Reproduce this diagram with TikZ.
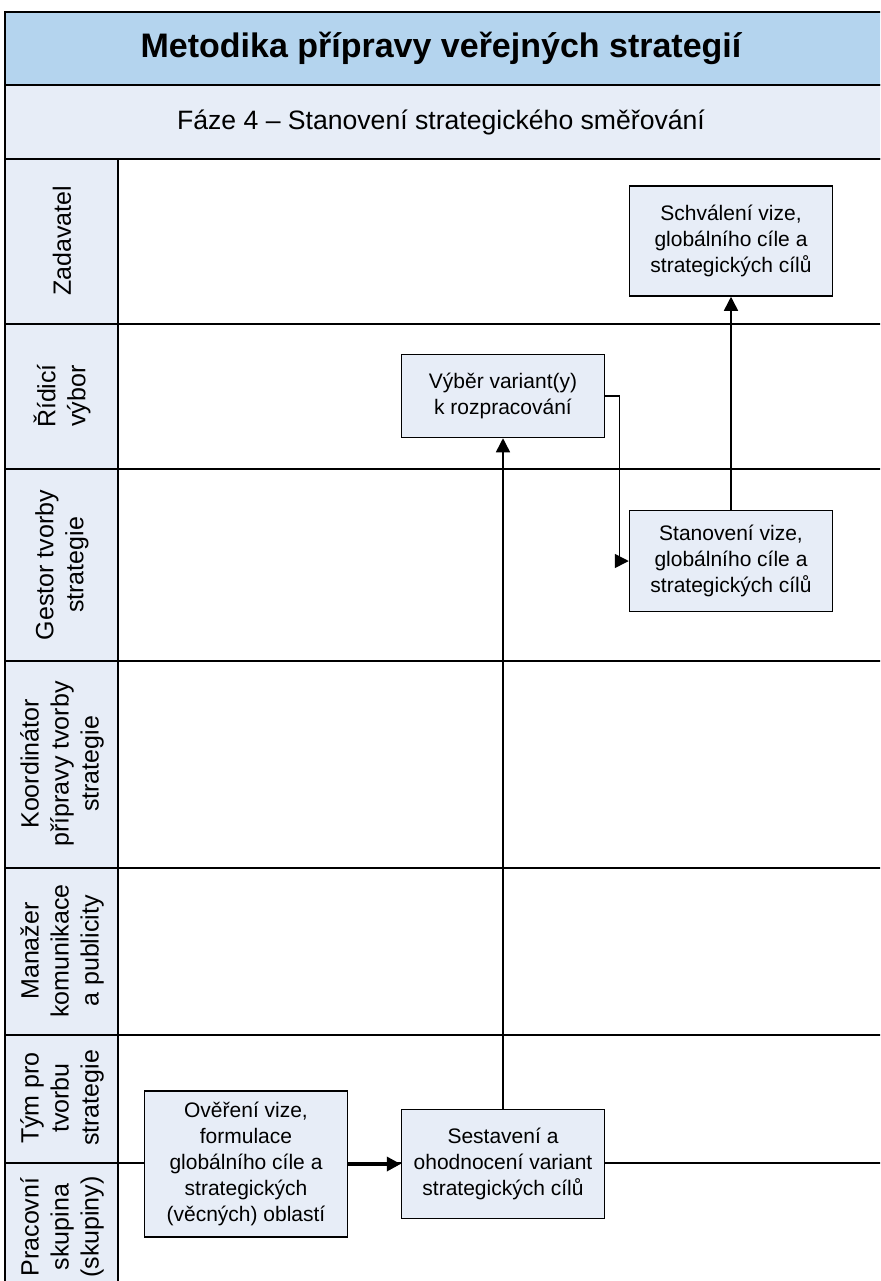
\documentclass[tikz,border=0pt]{standalone}
\usepackage{fontspec}
\setmainfont{Liberation Sans}
\usetikzlibrary{arrows.meta}
\definecolor{titlefill}{HTML}{B4D4EE}
\definecolor{lanefill}{HTML}{E7EDF7}
\begin{document}
\begin{tikzpicture}[x=0.5pt,y=-0.5pt,
    task/.style={draw,line width=0.75pt,fill=lanefill,minimum width=101.5pt,
      inner sep=0pt,align=center,font=\fontsize{10.5}{13}\selectfont},
    lane/.style={rotate=90,align=center,font=\fontsize{12.5}{15}\selectfont},
    flow/.style={line width=0.75pt,-{Triangle[length=7pt,width=7pt]}},
    sep/.style={line width=1pt}]
  \useasboundingbox (0,0) rectangle (880,1281);
  \clip (0,0) rectangle (880,1281);
  \draw[sep,fill=titlefill] (5,12) rectangle (884,85);
  \draw[sep,fill=lanefill] (5,85) rectangle (884,159);
  \draw[sep,fill=lanefill] (5,159) rectangle (118,1300);
  \draw[sep] (118,159) -- (884,159) -- (884,1300);
  \foreach \y in {324,469,661,868,1035,1163}
    \draw[sep] (5,\y) -- (884,\y);
  \draw
    (441,48) node (title){\fontsize{17}{20}\selectfont\bfseries Metodika přípravy veřejných strategií}
    (441,122) node (phase){\fontsize{13.3}{16}\selectfont Fáze 4 – Stanovení strategického směřování};
  \draw
    (62,241) node[lane] (zadavatel){Zadavatel}
    (62,396) node[lane] (ridici){Řídicí\\výbor}
    (62,565) node[lane] (gestor){Gestor tvorby\\strategie}
    (62,764) node[lane] (koordinator){Koordinátor\\přípravy tvorby\\strategie}
    (62,951) node[lane] (manazer){Manažer\\komunikace\\a publicity}
    (62,1098) node[lane] (tym){Tým pro\\tvorbu\\strategie}
    (62,1227) node[lane] (pracovni){Pracovní\\skupina\\(skupiny)};
  \draw
    (731,241) node[task,minimum height=55pt] (schvaleni){Schválení vize,\\globálního cíle a\\strategických cílů}
    (503,396) node[task,minimum height=41.5pt] (vyber){Výběr variant(y)\\k rozpracování}
    (731,561) node[task,minimum height=50.5pt] (stanoveni){Stanovení vize,\\globálního cíle a\\strategických cílů}
    (246,1164) node[task,minimum height=73pt] (overeni){Ověření vize,\\formulace\\globálního cíle a\\strategických\\(věcných) oblastí}
    (503,1164) node[task,minimum height=54.5pt] (sestaveni){Sestavení a\\ohodnocení variant\\strategických cílů};
  \begin{scope}[flow]
    \draw[line width=2pt] (overeni) -- (sestaveni);
    \draw (sestaveni) -- (vyber);
    \draw (vyber.east) -- ++(14,0) |- (stanoveni);
    \draw (stanoveni) -- (schvaleni);
  \end{scope}
\end{tikzpicture}
\end{document}
